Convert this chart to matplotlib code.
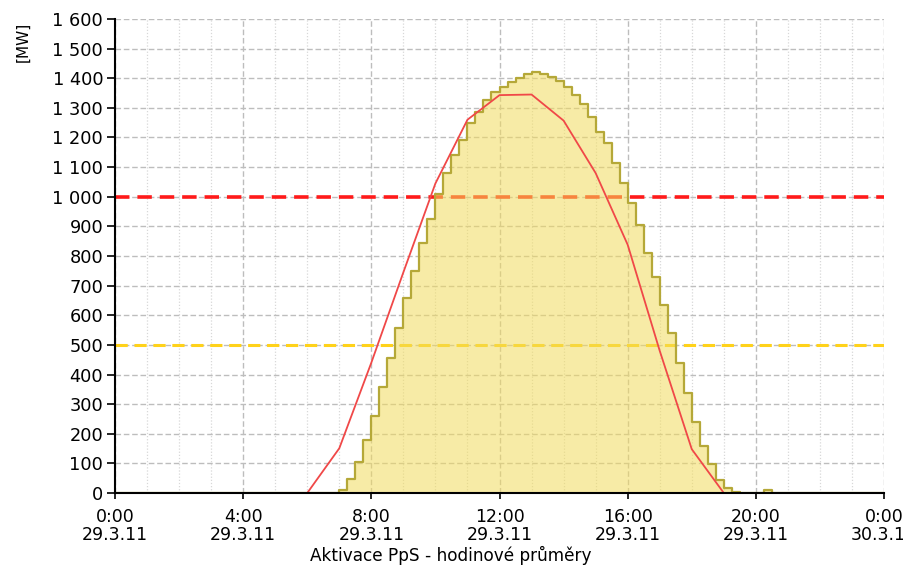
import matplotlib as mpl
mpl.use('Agg')
import matplotlib.pyplot as plt
from matplotlib.ticker import MultipleLocator, FuncFormatter

plt.rcParams['font.family'] = ['DejaVu Sans']

# 15-minute values (hour of day, MW)
step_hours = [0, 7.0, 7.25, 7.5, 7.75, 8.0, 8.25, 8.5, 8.75, 9.0, 9.25, 9.5, 9.75,
              10.0, 10.25, 10.5, 10.75, 11.0, 11.25, 11.5, 11.75, 12.0, 12.25, 12.5, 12.75,
              13.0, 13.25, 13.5, 13.75, 14.0, 14.25, 14.5, 14.75, 15.0, 15.25, 15.5, 15.75,
              16.0, 16.25, 16.5, 16.75, 17.0, 17.25, 17.5, 17.75, 18.0, 18.25, 18.5, 18.75,
              19.0, 19.25, 19.5, 20.25, 20.5, 24]
step_mw = [0, 10, 47, 106, 179, 260, 359, 457, 556, 657, 750, 843, 924,
           1009, 1081, 1141, 1192, 1248, 1287, 1327, 1353, 1372, 1386, 1402, 1414,
           1420, 1414, 1403, 1389, 1372, 1343, 1313, 1270, 1220, 1180, 1113, 1047,
           978, 905, 811, 730, 635, 539, 438, 336, 241, 160, 98, 44,
           16, 5, 0, 10, 0, 0]

# hourly averages
hour_pts = [0, 6, 7, 8, 9, 10, 11, 12, 13, 14, 15, 16, 17, 18, 19, 24]
hour_mw = [0, 0, 151, 440, 745, 1045, 1260, 1343, 1345, 1257, 1080, 838, 480, 148, 0, 0]

limit_red = 1000
limit_yellow = 500

xtick_labels = ['0:00\n29.3.11', '4:00\n29.3.11', '8:00\n29.3.11', '12:00\n29.3.11',
                '16:00\n29.3.11', '20:00\n29.3.11', '0:00\n30.3.11']

fig = plt.figure(figsize=(9.04, 5.65), dpi=100)
ax = fig.add_axes([0.1272, 0.1274, 0.8507, 0.839])

ax.axhline(limit_red, color='#FF1A1A', lw=2.6, ls=(0, (4, 2.2)), zorder=2)
ax.axhline(limit_yellow, color='#FFD21A', lw=2.2, ls=(0, (4, 2.2)), zorder=2)

ax.fill_between(step_hours, step_mw, step='post', color='#F2DC5D', alpha=0.55, lw=0, zorder=3)
ax.step(step_hours, step_mw, where='post', color='#B5A838', lw=1.6, zorder=4)
ax.plot(hour_pts, hour_mw, color='#F04848', lw=1.3, zorder=5)

ax.set_xlim(0, 24)
ax.set_ylim(0, 1600)
ax.xaxis.set_minor_locator(MultipleLocator(1))
ax.yaxis.set_major_locator(MultipleLocator(100))
ax.set_xticks(range(0, 25, 4))
ax.set_xticklabels(xtick_labels)
ax.yaxis.set_major_formatter(FuncFormatter(lambda v, p: '{:,}'.format(int(v)).replace(',', ' ')))

ax.grid(which='major', axis='both', color='#BDBDBD', ls=(0, (4, 2)), lw=1.0)
ax.grid(which='minor', axis='x', color='#D8D8D8', ls=(0, (1, 1.5)), lw=0.9)
ax.set_axisbelow(True)

for s in ['top', 'right']:
    ax.spines[s].set_visible(False)
for s in ['left', 'bottom']:
    ax.spines[s].set_linewidth(1.5)
    ax.spines[s].set_zorder(6)

ax.tick_params(axis='y', which='major', length=6, width=1.2, labelsize=12.8, pad=2.5)
ax.tick_params(axis='x', which='major', length=4, width=1.2, labelsize=12.5, pad=7)
ax.tick_params(axis='x', which='minor', length=0)
for lbl in ax.get_xticklabels():
    lbl.set_linespacing(0.97)

fig.text(0.499, 0.0065, 'Aktivace PpS - hodinové průměry', ha='center', va='baseline', fontsize=12.2)
fig.text(0.026, 0.962, '[MW]', rotation=90, ha='center', va='top', fontsize=11)

plt.savefig('out.png', dpi=100)
